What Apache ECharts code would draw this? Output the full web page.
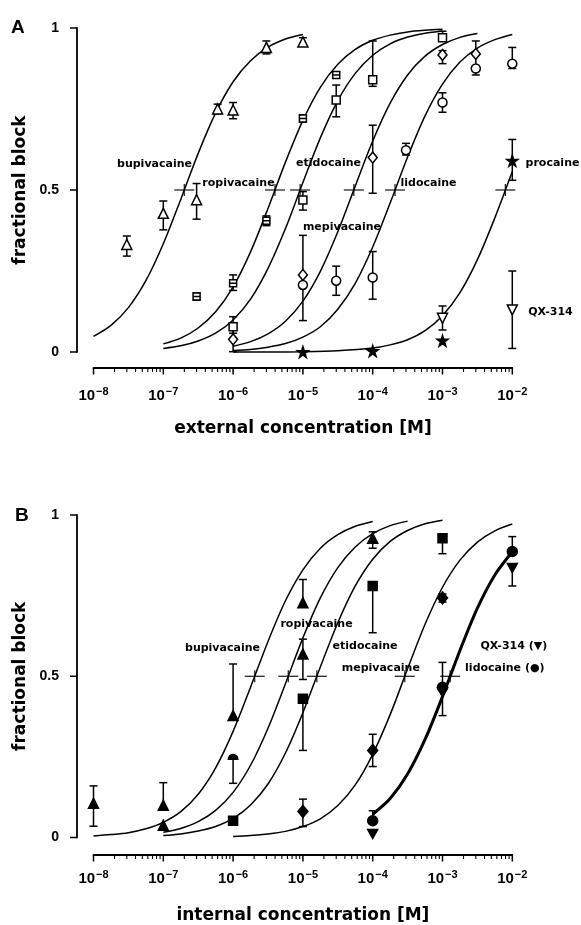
<!DOCTYPE html>
<html><head><meta charset="utf-8">
<script src="https://cdn.jsdelivr.net/npm/echarts@6/dist/echarts.min.js"></script>
<style>html,body{margin:0;padding:0;background:#fff}#c{width:581px;height:925px}</style>
</head><body><div id="c"></div>
<script>
// ---------- axis ticks ----------
const xTickExps = [-8, -7, -6, -5, -4, -3, -2];
const yTickVals = [0, 0.5, 1];

// ---------- Panel A (external) : data points, concentration [M] ----------
const bupiA_c = [3e-8, 1e-7, 3e-7, 6e-7, 1e-6, 3e-6, 1e-5];
const bupiA_y = [0.332, 0.428, 0.47, 0.75, 0.747, 0.94, 0.957];
const bupiA_lo = [0.296, 0.377, 0.41, 0.735, 0.72, 0.92, 0.948];
const bupiA_hi = [0.358, 0.466, 0.52, 0.765, 0.77, 0.96, 0.97];

const ropiA_c = [3e-7, 1e-6, 3e-6, 1e-5, 3e-5];
const ropiA_y = [0.171, 0.212, 0.405, 0.721, 0.855];
const ropiA_lo = [0.16, 0.19, 0.39, 0.71, 0.845];
const ropiA_hi = [0.182, 0.238, 0.42, 0.732, 0.865];

const etidoA_c = [1e-6, 1e-5, 3e-5, 1e-4, 1e-3];
const etidoA_y = [0.078, 0.469, 0.778, 0.84, 0.97];
const etidoA_lo = [0.058, 0.438, 0.726, 0.82, 0.96];
const etidoA_hi = [0.109, 0.495, 0.824, 0.96, 0.99];

const mepiA_c = [1e-6, 1e-5, 1e-4, 1e-3, 3e-3];
const mepiA_y = [0.039, 0.238, 0.60, 0.917, 0.92];
const mepiA_lo = [0.001, 0.097, 0.49, 0.89, 0.88];
const mepiA_hi = [0.07, 0.36, 0.70, 0.93, 0.96];

const lidoA_c = [1e-5, 3e-5, 1e-4, 3e-4, 1e-3, 3e-3, 1e-2];
const lidoA_y = [0.207, 0.22, 0.23, 0.623, 0.77, 0.875, 0.89];
const lidoA_lo = [null, 0.175, 0.163, 0.608, 0.74, 0.855, 0.875];
const lidoA_hi = [null, 0.265, 0.31, 0.644, 0.80, null, 0.94];

const procA_c = [1e-5, 1e-4, 1e-3, 1e-2];
const procA_y = [0.0, 0.003, 0.035, 0.59];
const procA_lo = [null, null, null, 0.53];
const procA_hi = [null, null, null, 0.656];

const qxA_c = [1e-3, 1e-2];
const qxA_y = [0.104, 0.13];
const qxA_lo = [0.068, 0.011];
const qxA_hi = [0.142, 0.25];

// ---------- Panel A fitted curves (log10 concentration, fractional block) ----------
const fitA_bupi_e = [-8, -7.75, -7.5, -7.25, -7, -6.75, -6.5, -6.25, -6, -5.75, -5.5, -5.25, -5];
const fitA_bupi_v = [0.048, 0.082, 0.137, 0.220, 0.334, 0.471, 0.613, 0.738, 0.834, 0.899, 0.941, 0.966, 0.980];
const fitA_ropi_e = [-7, -6.75, -6.5, -6.25, -6, -5.75, -5.5, -5.25, -5, -4.75, -4.5, -4.25, -4, -3.75, -3.5, -3.25, -3];
const fitA_ropi_v = [0.025, 0.043, 0.074, 0.124, 0.201, 0.309, 0.443, 0.586, 0.715, 0.817, 0.888, 0.934, 0.962, 0.978, 0.988, 0.993, 0.996];
const fitA_etido_e = [-7, -6.75, -6.5, -6.25, -6, -5.75, -5.5, -5.25, -5, -4.75, -4.5, -4.25, -4, -3.75, -3.5, -3.25, -3];
const fitA_etido_v = [0.011, 0.019, 0.034, 0.058, 0.099, 0.163, 0.258, 0.381, 0.523, 0.661, 0.776, 0.860, 0.916, 0.951, 0.972, 0.984, 0.991];
const fitA_mepi_e = [-6, -5.75, -5.5, -5.25, -5, -4.75, -4.5, -4.25, -4, -3.75, -3.5, -3.25, -3, -2.75, -2.5];
const fitA_mepi_v = [0.018, 0.032, 0.056, 0.095, 0.157, 0.249, 0.371, 0.512, 0.651, 0.768, 0.855, 0.913, 0.949, 0.971, 0.983];
const fitA_lido_e = [-6, -5.75, -5.5, -5.25, -5, -4.75, -4.5, -4.25, -4, -3.75, -3.5, -3.25, -3, -2.75, -2.5, -2.25, -2];
const fitA_lido_v = [0.005, 0.008, 0.015, 0.026, 0.046, 0.078, 0.132, 0.212, 0.324, 0.460, 0.602, 0.729, 0.827, 0.895, 0.938, 0.964, 0.980];
const fitA_proc_e = [-6, -5.5, -5, -4.5, -4, -3.75, -3.5, -3.25, -3, -2.75, -2.5, -2.25, -2];
const fitA_proc_v = [0.000, 0.000, 0.001, 0.004, 0.012, 0.022, 0.038, 0.066, 0.112, 0.183, 0.285, 0.414, 0.557];
// half-block points (log10 IC50)
const halfA_e = [-6.70, -5.40, -5.04, -4.27, -3.68, -2.10];

// ---------- Panel B (internal) : data points ----------
const bupiB_c = [1e-8, 1e-7, 1e-7, 1e-6, 1e-5, 1e-5, 1e-4];
const bupiB_y = [0.106, 0.10, 0.038, 0.378, 0.728, 0.569, 0.928];
const bupiB_lo = [0.035, null, null, null, null, 0.49, 0.897];
const bupiB_hi = [0.16, 0.17, null, 0.538, 0.80, 0.615, 0.948];

const ropiB_c = [1e-6];
const ropiB_y = [0.25];
const ropiB_lo = [0.168];
const ropiB_hi = [null];

const etidoB_c = [1e-6, 1e-5, 1e-4, 1e-3];
const etidoB_y = [0.052, 0.43, 0.78, 0.928];
const etidoB_lo = [null, 0.27, 0.635, 0.88];
const etidoB_hi = [null, null, null, null];

const mepiB_c = [1e-5, 1e-4, 1e-3];
const mepiB_y = [0.081, 0.27, 0.743];
const mepiB_lo = [0.034, 0.22, 0.73];
const mepiB_hi = [0.119, 0.32, 0.755];

const lidoB_c = [1e-4, 1e-3, 1e-2];
const lidoB_y = [0.052, 0.466, 0.887];
const lidoB_lo = [null, 0.378, null];
const lidoB_hi = [0.083, 0.543, 0.933];

const qxB_c = [1e-4, 1e-3, 1e-2];
const qxB_y = [0.011, 0.45, 0.836];
const qxB_lo = [null, null, 0.78];
const qxB_hi = [null, null, null];

// ---------- Panel B fitted curves ----------
const fitB_bupi_e = [-8, -7.75, -7.5, -7.25, -7, -6.75, -6.5, -6.25, -6, -5.75, -5.5, -5.25, -5, -4.75, -4.5, -4.25, -4];
const fitB_bupi_v = [0.005, 0.009, 0.015, 0.027, 0.047, 0.080, 0.134, 0.216, 0.329, 0.466, 0.608, 0.734, 0.830, 0.897, 0.939, 0.965, 0.980];
const fitB_ropi_e = [-7, -6.75, -6.5, -6.25, -6, -5.75, -5.5, -5.25, -5, -4.75, -4.5, -4.25, -4, -3.75, -3.5];
const fitB_ropi_v = [0.016, 0.028, 0.049, 0.084, 0.140, 0.224, 0.339, 0.477, 0.619, 0.743, 0.837, 0.901, 0.942, 0.967, 0.981];
const fitB_etido_e = [-7, -6.75, -6.5, -6.25, -6, -5.75, -5.5, -5.25, -5, -4.75, -4.5, -4.25, -4, -3.75, -3.5, -3.25, -3];
const fitB_etido_v = [0.006, 0.011, 0.020, 0.034, 0.059, 0.101, 0.166, 0.262, 0.387, 0.529, 0.666, 0.780, 0.863, 0.918, 0.952, 0.973, 0.984];
const fitB_mepi_e = [-6, -5.75, -5.5, -5.25, -5, -4.75, -4.5, -4.25, -4, -3.75, -3.5, -3.25, -3, -2.75, -2.5, -2.25, -2];
const fitB_mepi_v = [0.003, 0.006, 0.011, 0.019, 0.034, 0.058, 0.099, 0.163, 0.258, 0.381, 0.523, 0.661, 0.776, 0.860, 0.916, 0.951, 0.972];
const fitB_lido_e = [-4, -3.75, -3.5, -3.25, -3, -2.75, -2.5, -2.25, -2];
const fitB_lido_v = [0.072, 0.121, 0.197, 0.304, 0.437, 0.580, 0.711, 0.814, 0.886];
const halfB_e = [-5.69, -5.21, -4.80, -3.54, -2.89];

// ---------- annotation texts (anchored in data units) ----------
const labelsA = ['bupivacaine', 'ropivacaine', 'etidocaine', 'lidocaine', 'mepivacaine', 'procaine', 'QX-314'];
const labelsA_e = [-7.126, -5.923, -4.633, -3.201, -4.440, -1.424, -1.453];
const labelsA_v = [0.580, 0.522, 0.583, 0.522, 0.386, 0.583, 0.123];
const labelsB = ['bupivacaine', 'ropivacaine', 'etidocaine', 'mepivacaine', 'QX-314 (▼)', 'lidocaine (●)'];
const labelsB_e = [-6.152, -4.805, -4.110, -3.884, -1.978, -2.107];
const labelsB_v = [0.587, 0.661, 0.594, 0.525, 0.594, 0.525];

// ================= build =================
const BOLD = 'Liberation Sans';
const NAMEFONT = 'DejaVu Sans';
// tick marks along the log axis: decades (major) and 2..9 (minor)
const xTickMarks = [];
for (let e = -8; e <= -2; e++) {
  xTickMarks.push([e, 1]);
  if (e < -2) for (let k = 2; k <= 9; k++) xTickMarks.push([e + Math.log10(k), 0]);
}

function xMain(gi, offset, name, margin) {
  return {
    type: 'value', gridIndex: gi, min: -8, max: -2, interval: 1, offset, position: 'bottom',
    axisLine: { show: true, onZero: false, lineStyle: { color: '#000', width: 1.8 } },
    axisTick: { show: false },
    axisLabel: {
      margin,
      formatter: v => '{a|10}{b|−' + Math.round(-v) + '}',
      rich: {
        a: { fontFamily: BOLD, fontWeight: 'bold', fontSize: 15, color: '#000' },
        b: { fontFamily: BOLD, fontWeight: 'bold', fontSize: 11, color: '#000', padding: [0, 0, 9, 1] }
      }
    },
    splitLine: { show: false },
    name, nameLocation: 'middle', nameGap: 52,
    nameTextStyle: { fontFamily: NAMEFONT, fontWeight: 'bold', fontSize: 17, color: '#000' }
  };
}
function yAx(gi) {
  return {
    type: 'value', gridIndex: gi, min: 0, max: 1, interval: 0.5, offset: 16.5,
    axisLine: { show: true, onZero: false, lineStyle: { color: '#000', width: 1.8 } },
    axisTick: { show: false },
    axisLabel: {
      margin: 18,
      formatter: v => (v === 0 ? '0' : v === 1 ? '1' : '0.5'),
      fontFamily: BOLD, fontWeight: 'bold', fontSize: 14, color: '#000'
    },
    splitLine: { show: false },
    name: 'fractional block', nameLocation: 'middle', nameGap: 38,
    nameTextStyle: { fontFamily: NAMEFONT, fontWeight: 'bold', fontSize: 17, color: '#000' }
  };
}
// tick marks drawn through the axes' own coordinate mapping
function xTicks(xi, yi, offset) {
  return {
    type: 'custom', xAxisIndex: xi, yAxisIndex: yi, data: xTickMarks, silent: true, z: 6, clip: false,
    renderItem(params, api) {
      const p = api.coord([api.value(0), 0]);
      const major = api.value(1) === 1;
      const y0 = p[1] + offset, len = major ? 6.5 : 4;
      return { type: 'line', shape: { x1: p[0], y1: y0, x2: p[0], y2: y0 + len },
        style: { stroke: '#000', lineWidth: major ? 1.5 : 1.1 } };
    }
  };
}
function yTicks(xi, yi, offset) {
  return {
    type: 'custom', xAxisIndex: xi, yAxisIndex: yi, data: yTickVals.map(v => [v]), silent: true, z: 6, clip: false,
    renderItem(params, api) {
      const p = api.coord([-8, api.value(0)]);
      const x0 = p[0] - offset;
      return { type: 'line', shape: { x1: x0, y1: p[1], x2: x0 - 7, y2: p[1] },
        style: { stroke: '#000', lineWidth: 1.5 } };
    }
  };
}

function curve(xi, yi, es, vs, width) {
  return {
    type: 'line', xAxisIndex: xi, yAxisIndex: yi, data: es.map((e, i) => [e, vs[i]]),
    showSymbol: false, symbol: 'none', smooth: 0.3, silent: true, z: 2, clip: false,
    lineStyle: { color: '#000', width: width || 1.5 }
  };
}
function errBars(xi, yi, cs, ys, lo, hi) {
  const data = cs.map((c, i) => [Math.log10(c),
    lo[i] == null ? ys[i] : lo[i], hi[i] == null ? ys[i] : hi[i],
    lo[i] == null ? 0 : 1, hi[i] == null ? 0 : 1]);
  return {
    type: 'custom', xAxisIndex: xi, yAxisIndex: yi, data, silent: true, z: 3, clip: false,
    renderItem(params, api) {
      const x = api.value(0);
      const a = api.coord([x, api.value(1)]), b = api.coord([x, api.value(2)]);
      const st = { stroke: '#000', lineWidth: 1.5 };
      const ch = [{ type: 'line', shape: { x1: a[0], y1: a[1], x2: b[0], y2: b[1] }, style: st }];
      const w = 4;
      if (api.value(3)) ch.push({ type: 'line', shape: { x1: a[0] - w, y1: a[1], x2: a[0] + w, y2: a[1] }, style: st });
      if (api.value(4)) ch.push({ type: 'line', shape: { x1: b[0] - w, y1: b[1], x2: b[0] + w, y2: b[1] }, style: st });
      return { type: 'group', children: ch };
    }
  };
}
function marks(xi, yi, cs, ys, symbol, size, filled, rotate) {
  return {
    type: 'scatter', xAxisIndex: xi, yAxisIndex: yi, data: cs.map((c, i) => [Math.log10(c), ys[i]]),
    symbol, symbolSize: size, symbolRotate: rotate || 0, silent: true, z: 5, clip: false,
    itemStyle: { color: filled ? '#000' : '#fff', borderColor: '#000', borderWidth: 1.5, opacity: 1 }
  };
}
function crosses(xi, yi, es) {
  return {
    type: 'custom', xAxisIndex: xi, yAxisIndex: yi, data: es.map(e => [e, 0.5]), silent: true, z: 4, clip: false,
    renderItem(params, api) {
      const p = api.coord([api.value(0), api.value(1)]);
      const st = { stroke: '#000', lineWidth: 1.1 };
      return { type: 'group', children: [
        { type: 'line', shape: { x1: p[0] - 10, y1: p[1], x2: p[0] + 10, y2: p[1] }, style: st },
        { type: 'line', shape: { x1: p[0], y1: p[1] - 6, x2: p[0], y2: p[1] + 6 }, style: st }
      ] };
    }
  };
}
function texts(xi, yi, names, es, vs) {
  return {
    type: 'custom', xAxisIndex: xi, yAxisIndex: yi, data: es.map((e, i) => [e, vs[i]]), silent: true, z: 6, clip: false,
    renderItem(params, api) {
      const p = api.coord([api.value(0), api.value(1)]);
      return { type: 'text', x: p[0], y: p[1], style: {
        text: names[params.dataIndex], fill: '#000', align: 'center', verticalAlign: 'middle',
        font: 'bold 11px "DejaVu Sans"'
      } };
    }
  };
}

const STAR = 'path://M50,0L61.8,36.2H100L69.1,58.8L80.9,95.1L50,72.7L19.1,95.1L30.9,58.8L0,36.2H38.2Z';
const RSQ = 'path://M0,0H10V10H0ZM0,5H10';
const HALF = 'path://M0,10A10,10,0,0,1,20,10Z';

const series = [
  // Panel A
  xTicks(0, 0, 16), yTicks(0, 0, 16.5),
  curve(0, 0, fitA_bupi_e, fitA_bupi_v), curve(0, 0, fitA_ropi_e, fitA_ropi_v),
  curve(0, 0, fitA_etido_e, fitA_etido_v), curve(0, 0, fitA_mepi_e, fitA_mepi_v),
  curve(0, 0, fitA_lido_e, fitA_lido_v), curve(0, 0, fitA_proc_e, fitA_proc_v),
  crosses(0, 0, halfA_e),
  errBars(0, 0, bupiA_c, bupiA_y, bupiA_lo, bupiA_hi),
  errBars(0, 0, ropiA_c, ropiA_y, ropiA_lo, ropiA_hi),
  errBars(0, 0, etidoA_c, etidoA_y, etidoA_lo, etidoA_hi),
  errBars(0, 0, mepiA_c, mepiA_y, mepiA_lo, mepiA_hi),
  errBars(0, 0, lidoA_c, lidoA_y, lidoA_lo, lidoA_hi),
  errBars(0, 0, procA_c, procA_y, procA_lo, procA_hi),
  errBars(0, 0, qxA_c, qxA_y, qxA_lo, qxA_hi),
  marks(0, 0, bupiA_c, bupiA_y, 'triangle', [10, 10], false),
  marks(0, 0, ropiA_c, ropiA_y, RSQ, [7, 7], false),
  marks(0, 0, etidoA_c, etidoA_y, 'rect', [8, 8], false),
  marks(0, 0, mepiA_c, mepiA_y, 'diamond', [9, 11], false),
  marks(0, 0, lidoA_c, lidoA_y, 'circle', [9, 9], false),
  marks(0, 0, procA_c, procA_y, STAR, [11, 11], true),
  marks(0, 0, qxA_c, qxA_y, 'triangle', [10, 10], false, 180),
  texts(0, 0, labelsA, labelsA_e, labelsA_v),
  // Panel B
  xTicks(1, 1, 17.5), yTicks(1, 1, 16.5),
  curve(1, 1, fitB_bupi_e, fitB_bupi_v), curve(1, 1, fitB_ropi_e, fitB_ropi_v),
  curve(1, 1, fitB_etido_e, fitB_etido_v), curve(1, 1, fitB_mepi_e, fitB_mepi_v),
  curve(1, 1, fitB_lido_e, fitB_lido_v, 3),
  crosses(1, 1, halfB_e),
  errBars(1, 1, bupiB_c, bupiB_y, bupiB_lo, bupiB_hi),
  errBars(1, 1, ropiB_c, ropiB_y, ropiB_lo, ropiB_hi),
  errBars(1, 1, etidoB_c, etidoB_y, etidoB_lo, etidoB_hi),
  errBars(1, 1, mepiB_c, mepiB_y, mepiB_lo, mepiB_hi),
  errBars(1, 1, lidoB_c, lidoB_y, lidoB_lo, lidoB_hi),
  errBars(1, 1, qxB_c, qxB_y, qxB_lo, qxB_hi),
  marks(1, 1, bupiB_c, bupiB_y, 'triangle', [10, 10], true),
  marks(1, 1, ropiB_c, ropiB_y, HALF, [9, 5], true),
  marks(1, 1, etidoB_c, etidoB_y, 'rect', [9, 9], true),
  marks(1, 1, mepiB_c, mepiB_y, 'diamond', [10, 12], true),
  marks(1, 1, lidoB_c, lidoB_y, 'circle', [10, 10], true),
  marks(1, 1, qxB_c, qxB_y, 'triangle', [10, 9], true, 180),
  texts(1, 1, labelsB, labelsB_e, labelsB_v)
];

const chart = echarts.init(document.getElementById('c'), null, { renderer: 'canvas' });
chart.setOption({
  backgroundColor: '#fff',
  animation: false,
  grid: [
    { left: 93.5, right: 68.7, top: 28, height: 324 },
    { left: 93.5, right: 68.7, top: 515, height: 324.5 }
  ],
  xAxis: [
    xMain(0, 16, 'external concentration [M]', 18),
    xMain(1, 17.5, 'internal concentration [M]', 14)
  ],
  yAxis: [yAx(0), yAx(1)],
  graphic: [
    { type: 'text', left: 11, top: 18, style: { text: 'A', font: 'bold 19px "Liberation Sans"', fill: '#000' } },
    { type: 'text', left: 15, top: 506, style: { text: 'B', font: 'bold 19px "Liberation Sans"', fill: '#000' } }
  ],
  series
});
</script></body></html>
